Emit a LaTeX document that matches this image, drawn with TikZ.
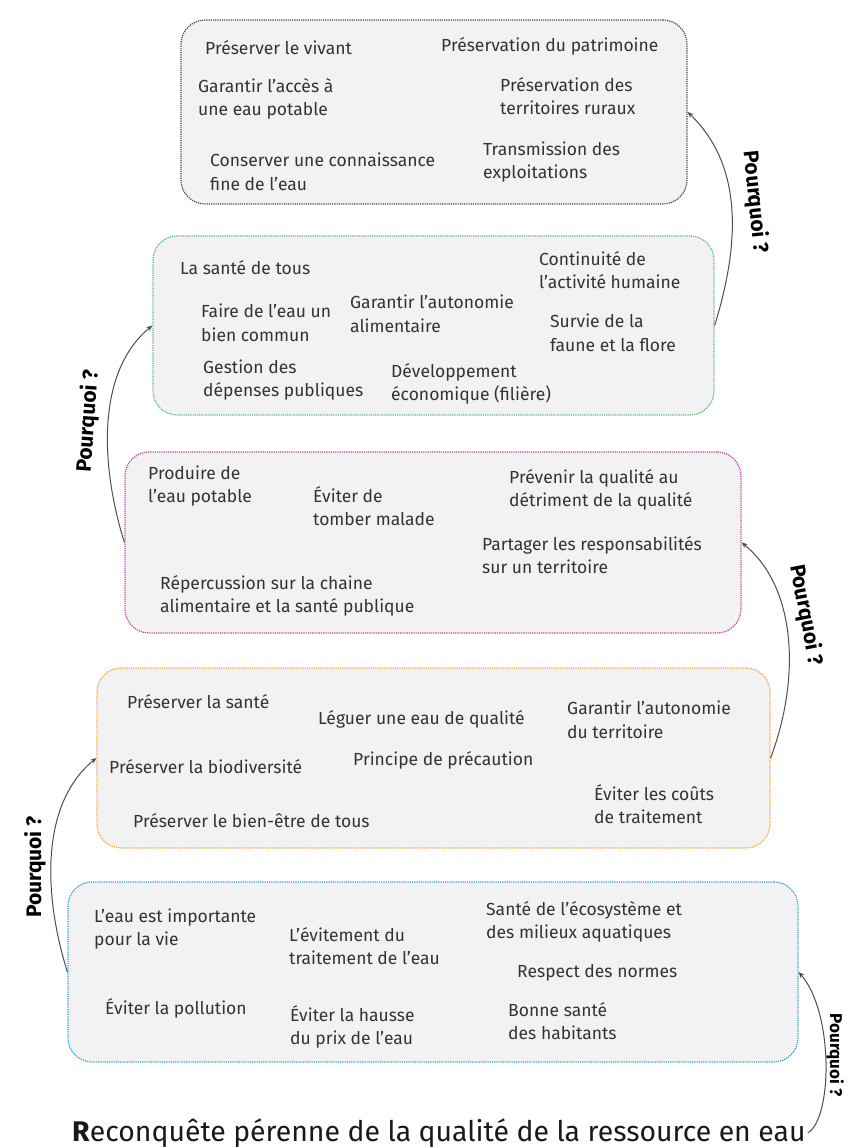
\documentclass[tikz,border=0pt]{standalone}
\usepackage{fontspec}
\setmainfont{Fira Sans}
\usepackage{xcolor}
\usetikzlibrary{positioning, fit, arrows.meta}

\definecolor{boxfill}{HTML}{F2F2F2}
\definecolor{txtgray}{HTML}{333333}
\definecolor{lineblack}{HTML}{4A4A4A}
\definecolor{linegreen}{HTML}{5DB97A}
\definecolor{linepink}{HTML}{B4499E}
\definecolor{lineorange}{HTML}{F2A93B}
\definecolor{lineblue}{HTML}{3A9ED2}
\definecolor{arrowgray}{HTML}{4D4D4D}

\begin{document}
\begin{tikzpicture}[x=1pt, y=-1pt,
    box/.style={rectangle, rounded corners=24pt, fill=boxfill, densely dotted, line width=1.2pt},
    item/.style={anchor=west, align=left, inner sep=0pt, text=txtgray, font=\fontsize{17.5}{23.5}\selectfont},
    why/.style={text=black, font=\fontsize{21}{21}\selectfont\bfseries},
    link/.style={draw=arrowgray, line width=1pt, -{Stealth[length=6pt, width=5pt]}}]
                \useasboundingbox (0,0) rectangle (856,1147);

                % Boxes
                \node[box, draw=lineblack, minimum width=506pt, minimum height=184pt] (BoxBlack) at (434,112) {};
                \node[box, draw=linegreen, minimum width=561pt, minimum height=179pt] (BoxGreen) at (433.5,325.5) {};
                \node[box, draw=linepink, minimum width=616pt, minimum height=181pt] (BoxPink) at (433,542.5) {};
                \node[box, draw=lineorange, minimum width=673pt, minimum height=180pt] (BoxOrange) at (433.5,758) {};
                \node[box, draw=lineblue, minimum width=730pt, minimum height=180pt] (BoxBlue) at (433,972) {};

                % Black box
                \node[item] (Vivant) at (205,48) {Préserver le vivant};
                \node[item] (Patrimoine) at (441,46) {Préservation du patrimoine};
                \node[item] (AccesEau) at (198,99) {Garantir l'accès à\\une eau potable};
                \node[item] (Ruraux) at (500,96) {Préservation des\\territoires ruraux};
                \node[item] (Connaissance) at (210,172) {Conserver une connaissance\\fine de l'eau};
                \node[item] (Transmission) at (483,162) {Transmission des\\exploitations};

                % Green box
                \node[item] (SanteTous) at (180,268) {La santé de tous};
                \node[item] (Continuite) at (539,270) {Continuité de\\l'activité humaine};
                \node[item] (BienCommun) at (201,323) {Faire de l'eau un\\bien commun};
                \node[item] (AutoAlim) at (350,314) {Garantir l'autonomie\\alimentaire};
                \node[item] (Faune) at (550,333) {Survie de la\\faune et la flore};
                \node[item] (Depenses) at (203,380) {Gestion des\\dépenses publiques};
                \node[item] (Filiere) at (391,384) {Développement\\économique (filière)};

                % Pink box
                \node[item] (Produire) at (148,486) {Produire de\\l'eau potable};
                \node[item] (Malade) at (313,506) {Éviter de\\tomber malade};
                \node[item] (Prevenir) at (509,490) {Prévenir la qualité au\\détriment de la qualité};
                \node[item] (Partager) at (482,555) {Partager les responsabilités\\sur un territoire};
                \node[item] (Chaine) at (160,596) {Répercussion sur la chaine\\alimentaire et la santé publique};

                % Orange box
                \node[item] (SantePres) at (127,702) {Préserver la santé};
                \node[item] (Leguer) at (318,719) {Léguer une eau de qualité};
                \node[item] (AutoTerr) at (567,720) {Garantir l'autonomie\\du territoire};
                \node[item] (Biodiv) at (109,767) {Préserver la biodiversité};
                \node[item] (Precaution) at (353,760) {Principe de précaution};
                \node[item] (Couts) at (594,804) {Éviter les coûts\\de traitement};
                \node[item] (BienEtre) at (133,821) {Préserver le bien-être de tous};

                % Blue box
                \node[item] (Vie) at (94,929) {L'eau est importante\\pour la vie};
                \node[item] (Evitement) at (289,946) {L'évitement du\\traitement de l'eau};
                \node[item] (Ecosysteme) at (486,922) {Santé de l'écosystème et\\des milieux aquatiques};
                \node[item] (Normes) at (517,973) {Respect des normes};
                \node[item] (Pollution) at (105,1008) {Éviter la pollution};
                \node[item] (Prix) at (290,1027) {Éviter la hausse\\du prix de l'eau};
                \node[item] (Habitants) at (508,1021) {Bonne santé\\des habitants};

                % Title
                \node[anchor=west, inner sep=2pt, text=black!90, font=\fontsize{28.4}{28}\selectfont] (Title) at (70,1133) {\textbf{R}econquête pérenne de la qualité de la ressource en eau};

                % Edges
                % Title to Blue
                \draw[link] (Title.east) .. controls +(25,-15) and +(35,40) .. (BoxBlue.east);
                % Blue to Orange
                \draw[link] (BoxBlue.west) .. controls +(-25,-80) and +(-55,45) .. (BoxOrange.west);
                % Orange to Pink
                \draw[link] (BoxOrange.east) .. controls +(30,-80) and +(55,45) .. (BoxPink.east);
                % Pink to Green
                \draw[link] (BoxPink.west) .. controls +(-25,-80) and +(-55,45) .. (BoxGreen.west);
                % Green to Black
                \draw[link] (BoxGreen.east) .. controls +(28,-90) and +(52,50) .. (BoxBlack.east);

                % Labels
                \node[why, rotate=-84] (WhyOne) at (755,202) {Pourquoi ?};
                \node[why, rotate=86] (WhyTwo) at (88,421) {Pourquoi ?};
                \node[why, rotate=-79] (WhyThree) at (806,615) {Pourquoi ?};
                \node[why, rotate=90] (WhyFour) at (35,867) {Pourquoi ?};
                \node[why, rotate=-90, font=\fontsize{17}{17}\selectfont\bfseries] (WhyFive) at (835,1055) {Pourquoi ?};
            
            \end{tikzpicture}
\end{document}
